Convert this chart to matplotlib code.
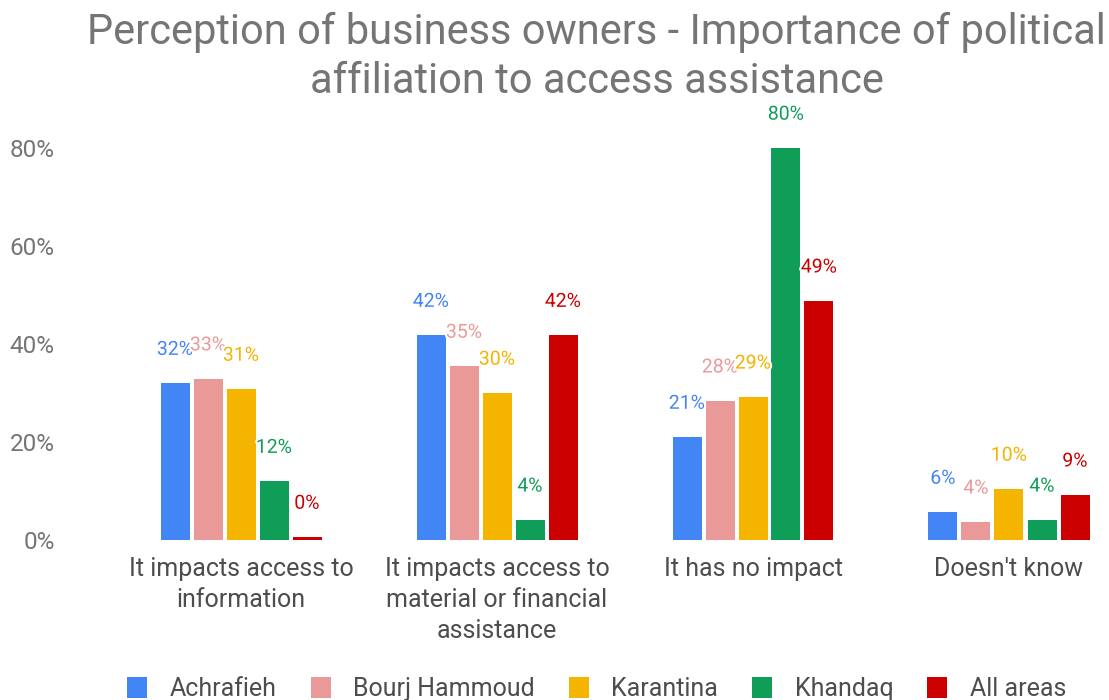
import matplotlib.pyplot as plt
import matplotlib.patheffects as pe
import numpy as np

plt.rcParams['font.family'] = ['Roboto', 'DejaVu Sans']

categories = ['It impacts access to\ninformation',
              'It impacts access to\nmaterial or financial\nassistance',
              'It has no impact',
              "Doesn't know"]
series = ['Achrafieh', 'Bourj Hammoud', 'Karantina', 'Khandaq', 'All areas']
colors = ['#4285F4', '#EA9999', '#F4B400', '#0F9D58', '#CC0000']

# bar heights (%) and the labels shown on top
values = [
    [32.0, 41.8, 21.0, 5.7],   # Achrafieh
    [32.9, 35.5, 28.4, 3.7],   # Bourj Hammoud
    [30.8, 30.0, 29.2, 10.4],  # Karantina
    [12.0, 4.1, 80.0, 4.1],    # Khandaq
    [0.6, 41.8, 48.8, 9.2],    # All areas
]
labels = [
    ['32%', '42%', '21%', '6%'],
    ['33%', '35%', '28%', '4%'],
    ['31%', '30%', '29%', '10%'],
    ['12%', '4%', '80%', '4%'],
    ['0%', '42%', '49%', '9%'],
]

fig = plt.figure(figsize=(11.09, 7), dpi=100)
ax = fig.add_axes([113 / 1109, 160 / 700, 996 / 1109, 392 / 700])

x = np.arange(len(categories))
step = 33 / 256
width = 29 / 256
for i, name in enumerate(series):
    pos = x + (i - 2) * step
    ax.bar(pos, values[i], width, color=colors[i], label=name)
    for px, v, t in zip(pos, values[i], labels[i]):
        ax.annotate(t, (px, v), xytext=(0, 24), textcoords='offset points',
                    ha='center', va='center', fontsize=14, color=colors[i],
                    path_effects=[pe.withStroke(linewidth=3, foreground='white')],
                    annotation_clip=False)

ax.set_xlim(-0.5, -0.5 + 996 / 256)
ax.set_ylim(0, 80)
ax.set_yticks([0, 20, 40, 60, 80])
ax.set_yticklabels(['0%', '20%', '40%', '60%', '80%'])
ax.set_xticks(x)
ax.set_xticklabels(categories, linespacing=1.38)
ax.tick_params(axis='y', length=0, pad=42, labelsize=17.5, labelcolor='#757575')
ax.tick_params(axis='x', length=0, pad=12, labelsize=18, labelcolor='#4d4d4d')
for s in ax.spines.values():
    s.set_visible(False)

fig.text(0.538, 1 - 57 / 700, 'Perception of business owners - Importance of political\naffiliation to access assistance',
         ha='center', va='center', fontsize=30, color='#757575', linespacing=1.27)

fig.legend(loc='center', bbox_to_anchor=(0.538, 1 - 689 / 700), ncol=5, frameon=False,
           fontsize=18, labelcolor='#4d4d4d', handlelength=0.8, handleheight=0.9,
           columnspacing=1.36, handletextpad=0.9)

fig.savefig('out.png', dpi=100)
